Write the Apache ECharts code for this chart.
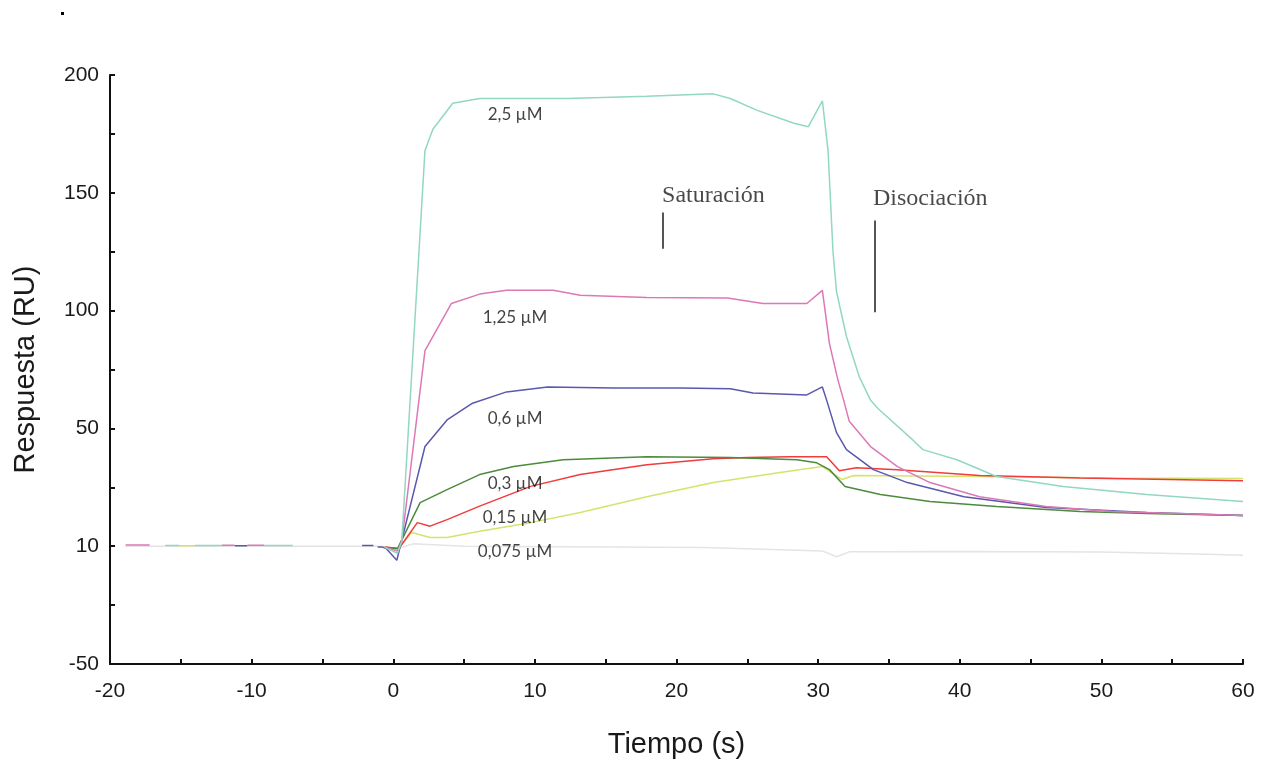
<!DOCTYPE html>
<html>
<head>
<meta charset="utf-8">
<script src="https://cdn.jsdelivr.net/npm/echarts@6/dist/echarts.min.js"></script>
<style>html,body{margin:0;padding:0;background:#fff;}#c{width:1276px;height:764px;}</style>
</head>
<body>
<div id="c"></div>
<script>
// ---- data (time s, response RU in axis units; gaps = null) ----
const xTicks = [-20, -10, 0, 10, 20, 30, 40, 50, 60];
const yTickLabels = {"-50": "-50", "0": "10", "50": "50", "100": "100", "150": "150", "200": "200"};

const c2_5 = [[-16.1,0.3],[-15.1,0.3],[-14.6,null],[-14.0,0.3],[-12.1,0.3],[-10,null],[-9.1,0.3],[-7.1,0.3],[-3,null],
  [-0.6,-0.5],[0.3,-3],[0.6,2],[2.24,168],[2.8,177],[4.2,188],[6.1,190],[12.3,190],[17.9,191],[22.6,192],[23.8,190],
  [25.7,185],[28.3,179.5],[29.3,178],[30.3,189],[30.7,168],[31.05,125],[31.3,108],[32.0,89],[32.9,72],[33.7,62],
  [34.3,58],[36.7,45],[37.4,41],[39.8,36.7],[42.6,29.6],[47.3,25.3],[53.2,21.9],[60,19]];
const c1_25 = [[-18.9,0.5],[-17.2,0.5],[-16.5,null],[-12.1,0.4],[-11.2,0.4],[-10.8,null],[-10.3,0.4],[-9.1,0.4],[-8,null],
  [-0.6,-0.5],[0.3,-2],[0.6,2],[2.24,83],[4.1,103],[6.1,107],[8,108.6],[11.3,108.6],[13.2,106.5],[17.9,105.6],[23.6,105.3],
  [26.1,103],[29.2,103],[30.3,108.6],[30.8,86],[31.4,70.5],[31.8,62],[32.2,53],[33.7,42.3],[35.6,33.8],[37.9,27],
  [41.4,21],[46.1,16.9],[50.8,14.7],[60,13]];
const c0_6 = [[-11.2,0.2],[-10.3,0.2],[-9.5,null],[-2.2,0.3],[-1.4,0.3],[-1.25,null],[-1.1,-0.3],[-0.8,-0.3],[-0.5,-1],
  [0.25,-6],[2.24,42.3],[3.8,53.6],[5.6,60.7],[8,65.5],[10.9,67.6],[15.6,67.2],[20.3,67.2],[23.8,66.8],[25.4,65],
  [29.2,64.2],[30.3,67.6],[30.6,62],[31.3,48.2],[32.0,41],[33.9,32.5],[36.3,27],[40.3,21],[46.1,16.4],[53.2,14.3],[60,13]];
const c0_3 = [[-0.6,-0.5],[0.3,-1],[1.9,18.5],[3.8,24],[6.1,30.4],[8.5,33.8],[12,36.7],[17.9,38],[23.8,37.6],[28.5,36.7],
  [29.9,35.4],[30.8,32.5],[31.9,25.3],[34.4,21.9],[37.9,19],[42.6,16.9],[48.5,14.7],[53.2,13.9],[60,13]];
const c0_15 = [[-0.6,-0.3],[0.4,-1],[1.7,10],[2.6,8.5],[3.8,11.3],[6.1,17],[9.7,25.4],[13.2,30.4],[17.9,34.6],[22.6,37.1],
  [25,37.6],[28,38],[30.6,38],[31.5,32],[32.7,33.3],[35.6,32.5],[41.4,30],[48.5,29],[60,27.8]];
const cYellow = [[-15.1,0.2],[-14.0,0.2],[-13,null],[-0.6,-0.3],[0.3,-1.5],[1.3,5.8],[2.6,3.7],[3.8,3.7],[6.1,6.3],[9.7,10],
  [13.2,14.3],[17.9,21],[22.6,27],[27.3,31.3],[30.3,33.8],[31.7,28.3],[32.5,30],[41.4,29.6],[50.8,29],[60,28.7]];
const c0_075 = [[-18.9,0],[-1,0],[0.3,-1],[1.4,1],[5,0],[22,-0.5],[30.3,-2],[31.3,-4.5],[32.2,-2.4],[40,-2.3],
  [50,-2.5],[57.5,-3.4],[60,-3.8]];

const concLabels = ["2,5 µM", "1,25 µM", "0,6 µM", "0,3 µM", "0,15 µM", "0,075 µM"];
const concLabelPos = [[8.6,183.1],[8.6,97.2],[8.6,54.2],[8.6,26.7],[8.6,12.3],[8.6,-2.2]];

const phaseLabels = ["Saturación", "Disociación"];
const phaseLabelPos = [[18.98,148.8],[33.87,147.5]];
const phaseLines = [[[19.05,141.6],[19.05,126.3]], [[34.01,138.2],[34.01,99.3]]];

// ---- chart ----
const chart = echarts.init(document.getElementById('c'));
function ln(name, data, color, z) {
  return {name, type:'line', data, showSymbol:false, symbol:'none', connectNulls:false, z:z,
    lineStyle:{color, width:1.5}, itemStyle:{color}, silent:true, animation:false};
}
chart.setOption({
  animation:false,
  backgroundColor:'#ffffff',
  grid:{left:110, right:33, top:75, bottom:99, containLabel:false},
  xAxis:{type:'value', min:-20, max:60, interval:5,
    name:'Tiempo (s)', nameLocation:'middle', nameGap:66,
    nameTextStyle:{fontFamily:'Liberation Sans', fontSize:29, color:'#1a1a1a'},
    axisLine:{onZero:false, lineStyle:{color:'#111', width:2}},
    axisTick:{inside:true, length:5, lineStyle:{color:'#111', width:2}},
    axisLabel:{fontFamily:'Liberation Sans', fontSize:21, color:'#1a1a1a', margin:17,
      formatter: v => xTicks.includes(v) ? String(v) : ''},
    splitLine:{show:false}},
  yAxis:{type:'value', min:-50, max:200, interval:25,
    name:'Respuesta (RU)', nameLocation:'middle', nameGap:70, nameRotate:90,
    nameTextStyle:{fontFamily:'Liberation Sans', fontSize:29, color:'#1a1a1a'},
    axisLine:{show:true, onZero:false, lineStyle:{color:'#111', width:2}},
    axisTick:{show:true, inside:true, length:5, lineStyle:{color:'#111', width:2}},
    axisLabel:{fontFamily:'Liberation Sans', fontSize:21, color:'#1a1a1a', margin:11,
      formatter: v => (yTickLabels[String(v)] !== undefined ? yTickLabels[String(v)] : '')},
    splitLine:{show:false}},
  graphic:[{type:'rect', shape:{x:61, y:12, width:3, height:3}, style:{fill:'#000'}}],
  series:[
    ln('0,075 µM', c0_075, '#e4e4e4', 1),
    ln('Amarillo', cYellow, '#d5e36c', 2),
    ln('0,15 µM', c0_15, '#f03c3c', 3),
    ln('0,3 µM', c0_3, '#4c8a3c', 4),
    ln('0,6 µM', c0_6, '#5a58ad', 5),
    ln('1,25 µM', c1_25, '#dc78b6', 6),
    ln('2,5 µM', c2_5, '#92d7c3', 7),
    {type:'scatter', symbolSize:0, silent:true, z:10,
      data: concLabels.map((n,i)=>({name:n, value:concLabelPos[i]})),
      label:{show:true, position:'inside', formatter:'{b}', fontFamily:'Lato', fontSize:17, color:'#111'}},
    {type:'scatter', symbolSize:0, silent:true, z:10,
      data: phaseLabels.map((n,i)=>({name:n, value:phaseLabelPos[i]})),
      label:{show:true, position:'right', distance:0, formatter:'{b}', fontFamily:'Liberation Serif', fontSize:24, color:'#1a1a1a'},
      markLine:{silent:true, symbol:['none','none'], animation:false, label:{show:false},
        lineStyle:{color:'#555', width:2, type:'solid'},
        data: phaseLines.map(l=>[{coord:l[0]},{coord:l[1]}])}}
  ]
});
</script>
</body>
</html>
